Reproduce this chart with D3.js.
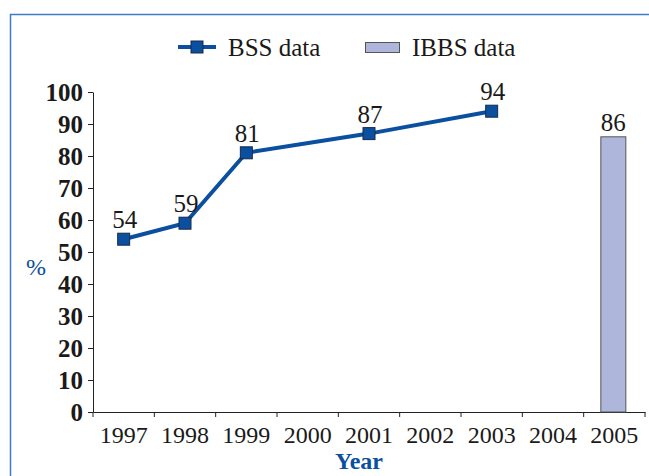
<!DOCTYPE html>
<html><head><meta charset="utf-8">
<script src="https://cdn.jsdelivr.net/npm/d3@7"></script>
<style>body{margin:0;background:#fff}svg{display:block}</style>
</head><body>
<script>
const categories = ["1997","1998","1999","2000","2001","2002","2003","2004","2005"];
const bssYears = ["1997","1998","1999","2001","2003"];
const bssValues = [54, 59, 81, 87, 94];
const ibbsYears = ["2005"];
const ibbsValues = [86];
const yTicks = [0,10,20,30,40,50,60,70,80,90,100];
const seriesNames = ["BSS data","IBBS data"];

const W = 649, H = 476;
const svg = d3.select("body").append("svg").attr("width", W).attr("height", H);
const font = "Liberation Serif";
const blue = "#0a4fa0";
const ink = "#1a1a1a";

// frame
svg.append("rect").attr("x", 10.5).attr("y", 14.5).attr("width", 700).attr("height", 500)
  .attr("fill", "none").attr("stroke", "#3f7cc4").attr("stroke-width", 1.5);

const x = d3.scaleBand().domain(categories).range([93, 645]);
const y = d3.scaleLinear().domain([0, 100]).range([412, 92]);

// y axis
const ya = svg.append("g").attr("transform", "translate(93,0)")
  .call(d3.axisLeft(y).tickValues(yTicks).tickSize(5).tickSizeOuter(0).tickPadding(5));
ya.select(".domain").attr("stroke", "#222");
ya.selectAll(".tick line").attr("stroke", "#222");
ya.selectAll("text").style("font-family", font).style("font-size", "25px").style("font-weight", "bold").attr("fill", ink);

// x axis
const xa = svg.append("g").attr("transform", "translate(0,412)")
  .call(d3.axisBottom(x).tickSize(0).tickPadding(14));
xa.select(".domain").attr("stroke", "#222");
xa.selectAll("text").style("font-family", font).style("font-size", "24px").attr("fill", ink);
// boundary ticks
const bounds = categories.map(c => x(c)).concat([x.range()[1]]);
xa.selectAll(".btick").data(bounds).enter().append("line")
  .attr("x1", d => d).attr("x2", d => d).attr("y1", 0).attr("y2", 5).attr("stroke", "#222");

// bar
const bw = 25;
svg.selectAll(".bar").data(ibbsValues).enter().append("rect")
  .attr("x", (d,i) => x(ibbsYears[i]) + x.bandwidth()/2 - bw/2 - 1)
  .attr("y", d => y(d)).attr("width", bw).attr("height", d => y(0) - y(d))
  .attr("fill", "#aeb6dc").attr("stroke", "#555").attr("stroke-width", 1);
svg.selectAll(".blab").data(ibbsValues).enter().append("text")
  .attr("x", (d,i) => x(ibbsYears[i]) + x.bandwidth()/2 - 1).attr("y", d => y(d) - 6)
  .attr("text-anchor", "middle").style("font-family", font).style("font-size", "25px").attr("fill", ink)
  .text(d => d);

// line
const pts = bssValues.map((v,i) => [x(bssYears[i]) + x.bandwidth()/2, y(v)]);
svg.append("path").attr("d", d3.line()(pts)).attr("fill", "none").attr("stroke", blue).attr("stroke-width", 4);
svg.selectAll(".mk").data(pts).enter().append("rect")
  .attr("x", d => d[0]-6).attr("y", d => d[1]-6).attr("width", 12).attr("height", 12)
  .attr("fill", blue).attr("stroke", "#1b2a45").attr("stroke-width", 1);
svg.selectAll(".plab").data(bssValues).enter().append("text")
  .attr("x", (d,i) => pts[i][0] + 1).attr("y", (d,i) => pts[i][1] - 11)
  .attr("text-anchor", "middle").style("font-family", font).style("font-size", "25px").attr("fill", ink)
  .text(d => d);

// axis titles
svg.append("text").attr("x", 36).attr("y", 275).attr("text-anchor", "middle")
  .style("font-family", font).style("font-size", "24px").attr("fill", blue).text("%");
svg.append("text").attr("x", 359).attr("y", 469).attr("text-anchor", "middle")
  .style("font-family", font).style("font-size", "24px").style("font-weight", "bold").attr("fill", blue).text("Year");

// legend
svg.append("line").attr("x1", 178).attr("x2", 216).attr("y1", 47).attr("y2", 47).attr("stroke", blue).attr("stroke-width", 4);
svg.append("rect").attr("x", 191).attr("y", 41).attr("width", 12).attr("height", 12).attr("fill", blue).attr("stroke", "#1b2a45");
svg.append("text").attr("x", 228).attr("y", 56).style("font-family", font).style("font-size", "25px").attr("fill", ink).text(seriesNames[0]);
svg.append("rect").attr("x", 365.5).attr("y", 42.5).attr("width", 34).attr("height", 10).attr("fill", "#aeb6dc").attr("stroke", "#555");
svg.append("text").attr("x", 412).attr("y", 56).style("font-family", font).style("font-size", "25px").attr("fill", ink).text(seriesNames[1]);
</script>
</body></html>
